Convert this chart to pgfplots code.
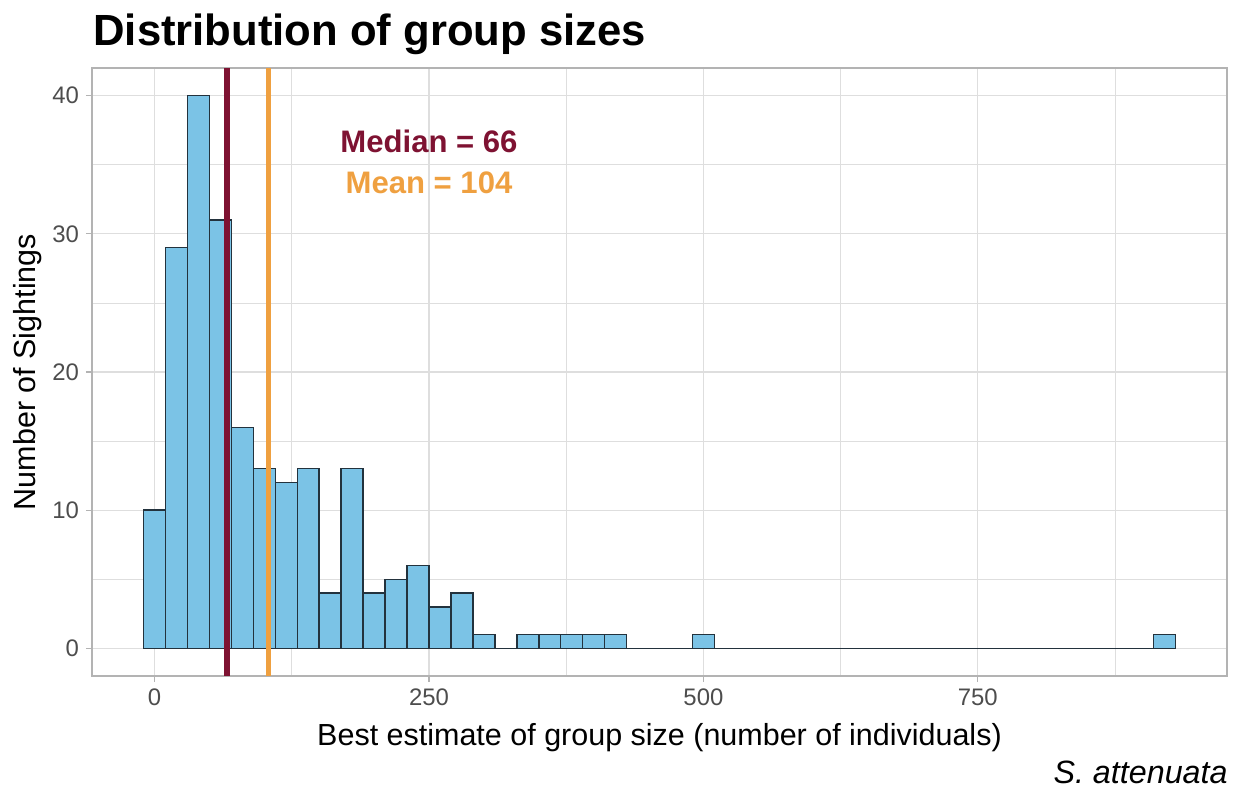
\documentclass[border=0pt]{standalone}
\usepackage{fontspec}
\setmainfont{Liberation Sans}
\usepackage{pgfplots}
\pgfplotsset{compat=1.18}
\definecolor{barfill}{HTML}{7BC3E6}
\definecolor{baredge}{HTML}{23323D}
\definecolor{medcol}{HTML}{7E1232}
\definecolor{meancol}{HTML}{EFA040}
\definecolor{gridcol}{HTML}{DEDEDE}
\definecolor{bordercol}{HTML}{B3B3B3}
\definecolor{ticklab}{HTML}{4D4D4D}
\begin{document}
\begin{tikzpicture}
\begin{axis}[
  at={(46bp,58bp)}, anchor=south west,
  width=567.5bp, height=304bp, scale only axis,
  xmin=-57, xmax=977, ymin=-2, ymax=42,
  xtick={0,250,500,750}, minor xtick={125,375,625,875},
  ytick={0,10,20,30,40}, minor ytick={5,15,25,35},
  tick pos=left,
  grid=both,
  major grid style={gridcol, line width=0.6bp},
  minor grid style={gridcol, line width=0.4bp},
  axis line style={bordercol, line width=0.6bp},
  tick align=outside, major tick length=3bp, minor tick length=0pt,
  tick style={bordercol, line width=0.6bp},
  /pgf/number format/assume math mode=true,
  xticklabel style={font=\fontsize{12}{12}\selectfont, text=ticklab},
  yticklabel style={font=\fontsize{12}{12}\selectfont, text=ticklab},
  xlabel={Best estimate of group size (number of individuals)},
  ylabel={Number of Sightings},
  every axis x label/.style={at={(axis description cs:0.5,-0.1135)}, anchor=base, font=\fontsize{15.3}{15.3}\selectfont},
  every axis y label/.style={at={(axis description cs:-0.0564,0.5)}, rotate=90, anchor=center, font=\fontsize{15.3}{15.3}\selectfont},
]
\addplot[ybar interval, fill=barfill, draw=baredge, line width=0.75bp] coordinates {
(-10,10) (10,29) (30,40) (50,31) (70,16) (90,13) (110,12) (130,13)
(150,4) (170,13) (190,4) (210,5) (230,6) (250,3) (270,4) (290,1)
(310,0) (330,1) (350,1) (370,1) (390,1) (410,1) (430,0) (450,0)
(470,0) (490,1) (510,0) (530,0) (550,0) (570,0) (590,0) (610,0)
(630,0) (650,0) (670,0) (690,0) (710,0) (730,0) (750,0) (770,0)
(790,0) (810,0) (830,0) (850,0) (870,0) (890,0) (910,1) (930,0)
};
\addplot[medcol, line width=2.6bp, forget plot] coordinates {(66,-2) (66,42)};
\addplot[meancol, line width=2.6bp, forget plot] coordinates {(104,-2) (104,42)};
\node[font=\bfseries\fontsize{15.6}{15.6}\selectfont, text=medcol, anchor=base] at (axis cs:250,35.9) {Median = 66};
\node[font=\bfseries\fontsize{15.6}{15.6}\selectfont, text=meancol, anchor=base] at (axis cs:250,32.9) {Mean = 104};
\end{axis}
\node[anchor=base west, inner sep=0pt, font=\bfseries\fontsize{21.9}{21.9}\selectfont] at (46.5bp,373bp) {Distribution of group sizes};
\node[anchor=base east, inner sep=0pt, font=\itshape\fontsize{16.2}{16.2}\selectfont] at (614bp,4.5bp) {S. attenuata};
\pgfresetboundingbox
\useasboundingbox (0,0) rectangle (619.5bp,396bp);
\end{tikzpicture}
\end{document}
